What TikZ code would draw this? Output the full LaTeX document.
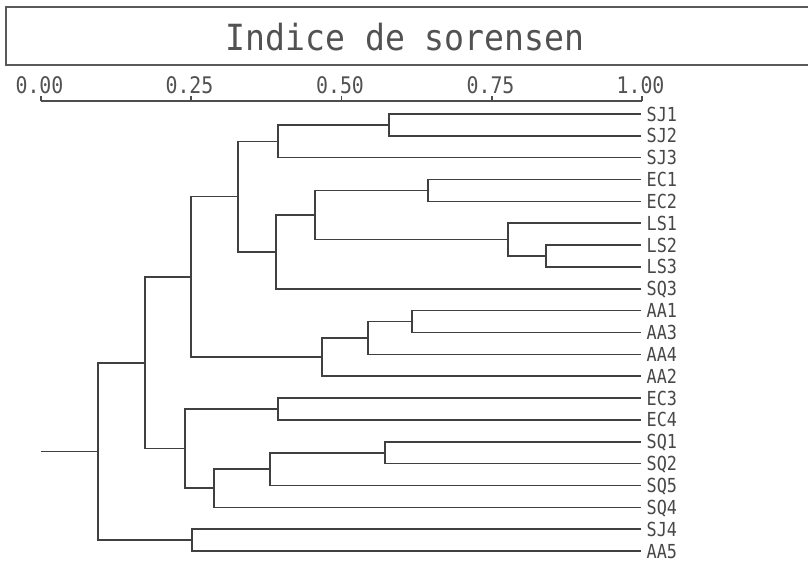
\documentclass[tikz,border=0pt]{standalone}
\usepackage{fontspec}
\newfontfamily\plotfont[FakeStretch=0.87]{DejaVu Sans Mono}
\newfontfamily\plottitle[FakeStretch=0.92]{DejaVu Sans Mono}

\tikzset{
  link/.style={draw=black!75, line width=0.9pt},
  leaf/.style={anchor=west, inner xsep=3pt, inner ysep=0pt, text height=8pt,
    text depth=0pt, text=black!72, font=\plotfont\fontsize{11}{13}\selectfont},
  scalelabel/.style={anchor=base, inner sep=0pt, text=black!68,
    font=\plotfont\fontsize{13}{15}\selectfont},
  heading/.style={anchor=base, inner sep=0pt, text=black!68,
    font=\plottitle\fontsize{20.5}{24}\selectfont},
}

\begin{document}
\begin{tikzpicture}[x=0.02cm, y=-0.02cm]
    \useasboundingbox (0,0) rectangle (808,562);

    % title box
    \draw[black!65, line width=1pt] (808,7) -- (6,7) -- (6,65) -- (808,65);
    \node[heading] (title) at (405,50) {Indice de sorensen};

    % scale
    \coordinate (ax0) at (41,101);
    \coordinate (ax1) at (642,101);
    \draw[black!70, line width=1.6pt] (ax0) -- (ax1);
    \foreach \val/\xx [count=\k from 0] in {0.00/41, 0.25/191, 0.50/341.5, 0.75/492, 1.00/642} {
        \draw[black!70, line width=0.8pt] (\xx,101) -- (\xx,96);
        \node[scalelabel] (t\k) at (\xx-1.5,93) {\val};
    }

    % leaves
    \foreach \lab [count=\i from 0] in {SJ1,SJ2,SJ3,EC1,EC2,LS1,LS2,LS3,SQ3,AA1,AA3,AA4,AA2,EC3,EC4,SQ1,SQ2,SQ5,SQ4,SJ4,AA5}
        \node[leaf] (\lab) at (641,{114+21.85*\i}) {\lab};

    % merge points
    \coordinate (a1) at (389,124.9);
    \coordinate (a2) at (278,141.3);
    \coordinate (b1) at (428,190.5);
    \coordinate (b2) at (546,256.0);
    \coordinate (b3) at (508,239.6);
    \coordinate (b4) at (315,215.1);
    \coordinate (b5) at (276,251.9);
    \coordinate (c1) at (238,196.6);
    \coordinate (d1) at (412,321.6);
    \coordinate (d2) at (368,338.0);
    \coordinate (d3) at (322,357.1);
    \coordinate (c2) at (191,276.8);
    \coordinate (e1) at (278,409.0);
    \coordinate (f1) at (385,452.7);
    \coordinate (f2) at (270,469.1);
    \coordinate (f3) at (214,488.2);
    \coordinate (e2) at (185,448.6);
    \coordinate (g1) at (145,362.7);
    \coordinate (h1) at (192,540.1);
    \coordinate (root) at (98,451.4);
    \coordinate (stem) at (41,451.4);

    \draw[link] (SJ1.west) -| (a1) |- (SJ2.west);
    \draw[link] (a1) -| (a2) |- (SJ3.west);
    \draw[link] (EC1.west) -| (b1) |- (EC2.west);
    \draw[link] (LS2.west) -| (b2) |- (LS3.west);
    \draw[link] (LS1.west) -| (b3) |- (b2);
    \draw[link] (b1) -| (b4) |- (b3);
    \draw[link] (b4) -| (b5) |- (SQ3.west);
    \draw[link] (a2) -| (c1) |- (b5);
    \draw[link] (AA1.west) -| (d1) |- (AA3.west);
    \draw[link] (d1) -| (d2) |- (AA4.west);
    \draw[link] (d2) -| (d3) |- (AA2.west);
    \draw[link] (c1) -| (c2) |- (d3);
    \draw[link] (EC3.west) -| (e1) |- (EC4.west);
    \draw[link] (SQ1.west) -| (f1) |- (SQ2.west);
    \draw[link] (f1) -| (f2) |- (SQ5.west);
    \draw[link] (f2) -| (f3) |- (SQ4.west);
    \draw[link] (e1) -| (e2) |- (f3);
    \draw[link] (c2) -| (g1) |- (e2);
    \draw[link] (SJ4.west) -| (h1) |- (AA5.west);
    \draw[link] (g1) -| (root) |- (h1);
    \draw[link] (stem) -- (root);
\end{tikzpicture}
\end{document}
